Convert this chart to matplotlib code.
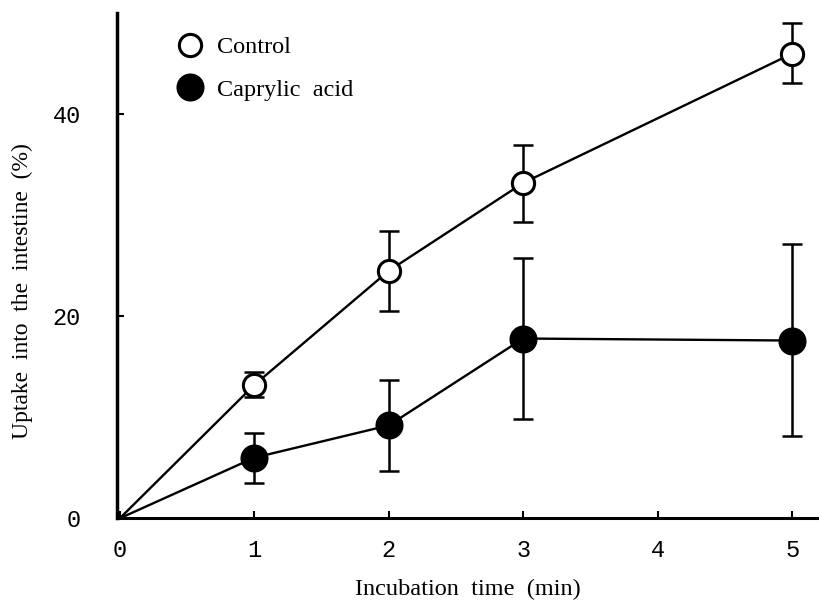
import numpy as np
import matplotlib
matplotlib.use("Agg")
import matplotlib.pyplot as plt

# incubation time (min)
time = [0, 1, 2, 3, 5]

# uptake into the intestine (%), mean with lower / upper error bar ends
control = [0, 13.2, 24.5, 33.2, 46.0]
control_lo = [0, 12.0, 20.5, 29.3, 43.1]
control_hi = [0, 14.5, 28.4, 37.0, 49.0]

caprylic = [0, 6.0, 9.2, 17.8, 17.6]
caprylic_lo = [0, 3.5, 4.7, 9.8, 8.1]
caprylic_hi = [0, 8.4, 13.7, 25.8, 27.2]

xticks = [0, 1, 2, 3, 4, 5]
yticks = [0, 20, 40]

serif = "Liberation Serif"
mono = "Liberation Mono"

fig = plt.figure(figsize=(8.19, 6.02), dpi=100)
ax = fig.add_axes([0.143, 0.139, 0.857, 0.839])


def draw(x, y, lo, hi, face, label):
    y = np.array(y)
    err = [y - np.array(lo), np.array(hi) - y]
    # line from origin through the points
    ax.plot(x, y, color="black", lw=1.7, zorder=2)
    ax.errorbar(x[1:], y[1:], yerr=[err[0][1:], err[1][1:]], fmt="none",
                ecolor="black", elinewidth=1.8, capsize=7.5, capthick=1.8, zorder=3)
    ax.plot(x[1:], y[1:], "o", ms=18 if face == "black" else 16, mfc=face,
            mec="black", mew=2.2, zorder=4, label=label)


draw(time, control, control_lo, control_hi, "white", "Control")
draw(time, caprylic, caprylic_lo, caprylic_hi, "black", "Caprylic  acid")

ax.set_xlim(-0.02, 5.2)
ax.set_ylim(0, 50)
ax.set_xticks(xticks)
ax.set_yticks(yticks)
ax.set_xticklabels([str(v) for v in xticks], fontfamily=mono, fontsize=17)
ax.set_yticklabels([str(v) for v in yticks], fontfamily=mono, fontsize=17)
ax.tick_params(direction="in", length=5, width=1.5)
ax.tick_params(axis="y", pad=26)
ax.tick_params(axis="x", pad=15)

for s in ["top", "right"]:
    ax.spines[s].set_visible(False)
ax.spines["left"].set_linewidth(2.5)
ax.spines["bottom"].set_linewidth(2.2)

ax.set_xlabel("Incubation  time  (min)", fontfamily=serif, fontsize=17.5)
ax.set_ylabel("Uptake  into  the  intestine  (%)", fontfamily=serif, fontsize=17)
ax.xaxis.set_label_coords(0.5, -0.12)
ax.yaxis.set_label_coords(-0.12, 0.45)

leg = ax.legend(loc="upper left", bbox_to_anchor=(0.056, 0.998), frameon=False,
                prop={"family": serif, "size": 17.5}, handletextpad=0.6,
                labelspacing=0.85, handlelength=1.0)

fig.savefig("out.png", dpi=100)
